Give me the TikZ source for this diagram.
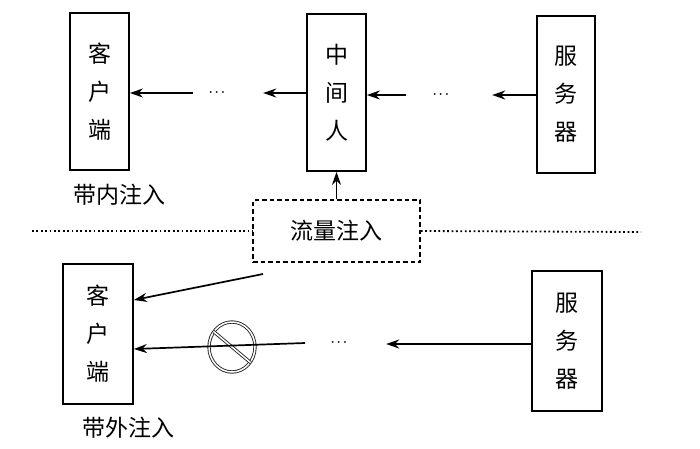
\documentclass[tikz,border=0pt]{standalone}
\usepackage{fontspec}
\setmainfont{Noto Sans CJK SC}
\usepackage{amsmath}
\usepackage{tikz}
\usetikzlibrary{arrows.meta,shapes.geometric}

\begin{document}
\begin{tikzpicture}[x=1pt,y=-1pt]

%
% Styles
%
\tikzstyle{host}   = [rectangle,draw,line width=1.8pt,align=center,inner sep=0pt,
                      font=\fontsize{23}{38}\selectfont]
\tikzstyle{inject} = [rectangle,draw,line width=1.5pt,dash pattern=on 4.5pt off 3pt,
                      minimum width=167pt,minimum height=62pt,font=\fontsize{23}{28}\selectfont]
\tikzstyle{label}  = [font=\fontsize{23}{28}\selectfont]
\tikzstyle{dots}   = [inner sep=0pt,minimum height=10pt,font=\fontsize{13}{13}\selectfont\boldmath]
\tikzstyle{block}  = [ellipse,draw=black!85,double,double distance=1.5pt,line width=0.9pt,
                      minimum width=46pt,minimum height=50pt,inner sep=0pt]

\tikzstyle{edge}   = [->,>={Stealth[length=13pt,width=9pt]},line width=1.7pt]
\tikzstyle{sep}    = [line width=1.8pt,dash pattern=on 1.8pt off 2.6pt]

\useasboundingbox (0,0) rectangle (700,448);

% in-band
\node[host]   (cli)  at ( 99.5, 91.5) [minimum width=59pt,minimum height=157pt] {客\\户\\端};
\node[host]   (mitm) at (336.5, 92.5) [minimum width=59pt,minimum height=157pt] {中\\间\\人};
\node[host]   (srv)  at (566,  94.5)  [minimum width=58pt,minimum height=157pt] {服\\务\\器};
\node[dots]   (d1)   at (218, 93)     [minimum width=50pt] {$\cdots$};
\node[dots]   (d2)   at (442, 95)     [minimum width=72pt] {$\cdots$};
\node[label]  (inb)  at (119, 195)    {带内注入};

\draw[edge] (d1.west) -- (d1.west -| cli.east);
\draw[edge,shorten >=20pt] (mitm.west |- d1) -- (d1.east);
\draw[edge] (d2.west) -- (d2.west -| mitm.east);
\draw[edge,shorten >=14pt] (srv.west |- d2) -- (d2.east);

% traffic injection
\node[inject] (inj)  at (336.5, 231)  {流量注入};
\coordinate   (sl)   at ( 32, 231);
\coordinate   (sr)   at (641, 232);

\draw[edge] (inj.north) -- (mitm.south);
\draw[sep] (sl) -- (inj.west);
\draw[sep] (inj.east) -- (sr);

% out-of-band
\node[host]   (cli2) at ( 98, 334)    [minimum width=70pt,minimum height=140pt] {客\\户\\端};
\node[host]   (srv2) at (567, 341)    [minimum width=70pt,minimum height=140pt] {服\\务\\器};
\node[dots]   (d3)   at (340, 343)    [minimum width=92pt] {$\cdots$};
\node[block]  (blk)  at (232, 347)    {};
\node[label]  (outb) at (128, 428)    {带外注入};
\coordinate   (f1)   at (263, 274);
\coordinate   (f2)   at (305, 343);
\coordinate   (t1)   at (cli2.east |- 0,300);
\coordinate   (t2)   at (cli2.east |- 0,349);

\draw[block] (blk.140) -- (blk.-40);
\draw[edge] (f1) -- (t1);
\draw[edge] (f2) -- (t2);
\draw[edge] (srv2.west |- 0,344) -- (d3.east |- 0,344);

\end{tikzpicture}
\end{document}
